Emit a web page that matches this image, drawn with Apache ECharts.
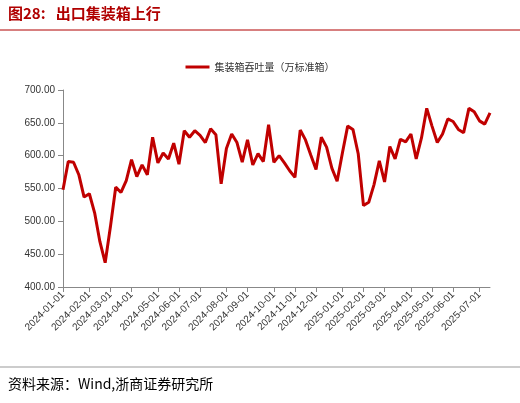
<!DOCTYPE html>
<html><head><meta charset="utf-8">
<script src="https://cdn.jsdelivr.net/npm/echarts@6/dist/echarts.min.js"></script>
<style>html,body{margin:0;padding:0;background:#fff}#main{width:520px;height:403px}</style>
</head><body><div id="main"></div>
<script>
// 集装箱吞吐量（万标准箱），周度
var values = [
  548, 591, 590, 571, 537, 542, 513, 469, 437, 492, 552, 544, 562, 594, 568, 586, 571, 628, 589, 604, 595, 619,
  587, 638, 628, 638, 631, 620, 641, 632, 557, 611, 633, 620, 590, 624, 586, 603, 591, 647, 590, 600, 589, 577,
  567, 639, 624, 601, 579, 628, 613, 581, 561, 604, 645, 640, 603, 524, 529, 556, 592, 560, 614, 595, 625, 621,
  633, 595, 627, 672, 645, 620, 633, 656, 652, 640, 635, 672, 667, 653, 648, 665
];
var startDate = '2024-01-01';
var yTicks = [400, 450, 500, 550, 600, 650, 700];

function pad(n) { return n < 10 ? '0' + n : '' + n; }
var dates = [];
var d0 = new Date(startDate + 'T00:00:00Z');
for (var i = 0; i < values.length; i++) {
  var d = new Date(d0.getTime() + i * 7 * 86400000);
  dates.push(d.getUTCFullYear() + '-' + pad(d.getUTCMonth() + 1) + '-' + pad(d.getUTCDate()));
}
// 每月第一周显示标签
function isMonthStart(idx) {
  if (idx === 0) return true;
  return dates[idx].slice(0, 7) !== dates[idx - 1].slice(0, 7);
}

var myChart = echarts.init(document.getElementById('main'));
var option = {
  animation: false,
  graphic: [
    { type: 'text', left: 8, top: 6, style: { text: '图28:   出口集装箱上行', fontSize: 15, fontWeight: 'bold', fill: '#b00000', fontFamily: 'Noto Sans CJK SC' } },
    { type: 'line', shape: { x1: 0, y1: 30, x2: 520, y2: 30 }, style: { stroke: '#b00000', lineWidth: 1 } },
    { type: 'line', shape: { x1: 0, y1: 367, x2: 520, y2: 367 }, style: { stroke: '#999', lineWidth: 1 } },
    { type: 'text', left: 8, top: 377, style: { text: '资料来源：Wind,浙商证券研究所', fontSize: 14, fill: '#000', fontFamily: 'Noto Sans CJK SC' } }
  ],
  legend: {
    top: 57, left: 'center', itemWidth: 24, itemHeight: 3,
    icon: 'rect',
    textStyle: { fontSize: 10, color: '#333', fontFamily: 'Noto Sans CJK SC' },
    data: ['集装箱吞吐量（万标准箱）']
  },
  grid: { left: 63, right: 30, top: 90, bottom: 116, containLabel: false },
  xAxis: {
    type: 'category', boundaryGap: false, data: dates,
    axisLine: { lineStyle: { color: '#888' } },
    axisTick: { interval: function (i) { return isMonthStart(i); }, lineStyle: { color: '#888' } },
    axisLabel: {
      interval: function (i) { return isMonthStart(i); },
      rotate: 45, fontSize: 10, color: '#333', margin: 6,
      formatter: function (v) { return v.slice(0, 8) + '01'; }
    }
  },
  yAxis: {
    type: 'value', min: yTicks[0], max: yTicks[yTicks.length - 1], interval: 50,
    axisLine: { show: true, lineStyle: { color: '#888' } },
    axisTick: { show: true, lineStyle: { color: '#888' } },
    splitLine: { show: false },
    axisLabel: { fontSize: 10, color: '#333', formatter: function (v) { return v.toFixed(2); } }
  },
  series: [{
    name: '集装箱吞吐量（万标准箱）', type: 'line', data: values,
    showSymbol: false, color: '#c00000',
    lineStyle: { width: 3, color: '#c00000' }
  }]
};
myChart.setOption(option);
</script></body></html>
